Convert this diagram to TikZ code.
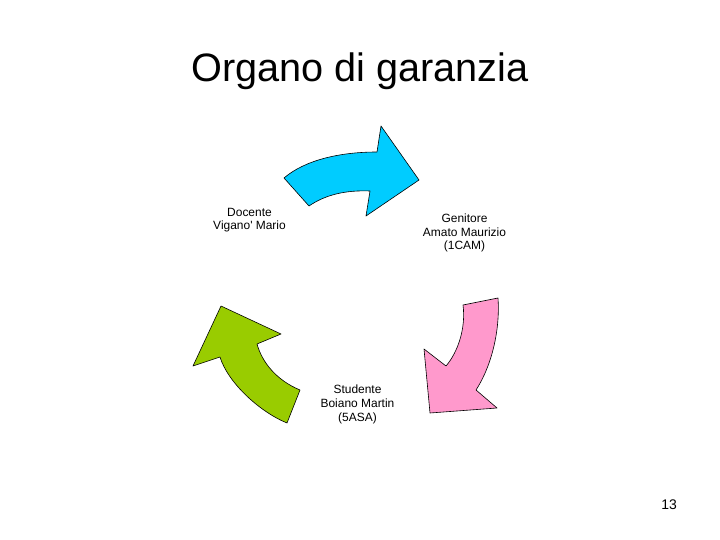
\documentclass[tikz,border=0pt]{standalone}
\usepackage{fontspec}
\setmainfont{Liberation Sans}
\definecolor{cycblue}{RGB}{0,204,255}
\definecolor{cycpink}{RGB}{255,153,204}
\definecolor{cycgreen}{RGB}{153,204,0}
\begin{document}
\begin{tikzpicture}[x=1bp, y=-1bp,
  cycarrow/.style={draw=black, line width=0.6bp, line join=round},
  member/.style={align=center, inner sep=0pt, anchor=base, font=\fontsize{12}{14}\selectfont}]
\useasboundingbox (0,0) rectangle (720,540);
\node[anchor=base, inner sep=0pt, font=\fontsize{39.8}{44}\selectfont] (title) at (360,82) {Organo di garanzia};
\filldraw[cycarrow, fill=cycblue] (284,178) .. controls (305,160) and (340,152) .. (377,152)
    -- (381,126) -- (419,180) -- (366,216) -- (370,191)
    .. controls (345,190) and (325,195) .. (309,206) -- cycle;
\filldraw[cycarrow, fill=cycpink] (463,305) -- (498,298) .. controls (500,325) and (494,362) .. (476,390)
    -- (497,408) -- (430,413) -- (424,349) -- (446,366)
    .. controls (458,352) and (466,328) .. (463,305) -- cycle;
\filldraw[cycarrow, fill=cycgreen] (300,390) -- (287,423) .. controls (260,412) and (228,383) .. (220,357)
    -- (193,366) -- (221,306) -- (281,334) -- (257,344)
    .. controls (262,362) and (276,380) .. (300,390) -- cycle;
\node[member] (docente) at (249.5,230) {Docente\\Vigano\textquotesingle{} Mario};
\node[member] (genitore) at (464.5,250) {Genitore\\Amato Maurizio\\(1CAM)};
\node[member] (studente) at (357.5,421.5) {Studente\\Boiano Martin\\(5ASA)};
\node[anchor=base, inner sep=0pt, font=\fontsize{14}{16}\selectfont] (page) at (669,509) {13};
\end{tikzpicture}
\end{document}
